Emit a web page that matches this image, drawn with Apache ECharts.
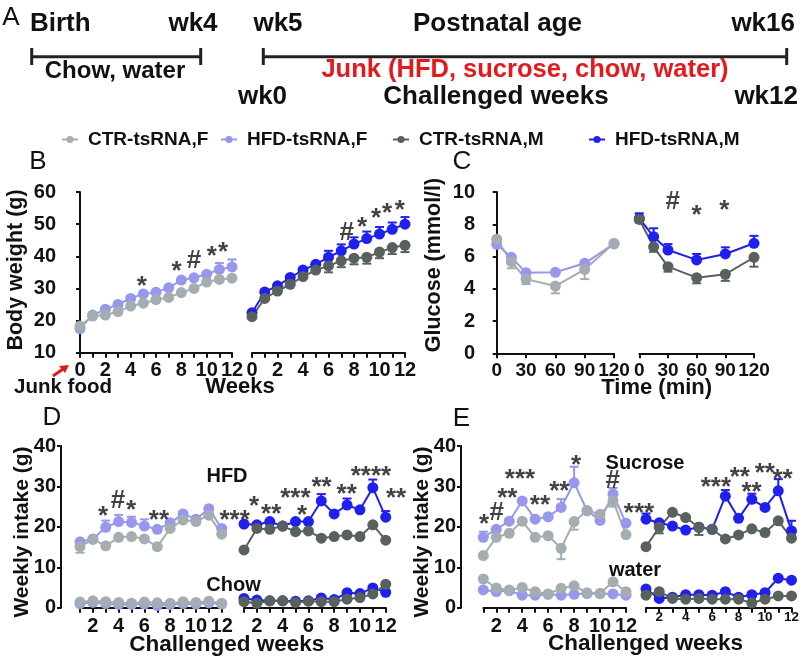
<!DOCTYPE html>
<html><head><meta charset="utf-8">
<script src="https://cdn.jsdelivr.net/npm/echarts@6/dist/echarts.min.js"></script>
<style>html,body{margin:0;padding:0;background:#fff}#c{width:802px;height:662px}</style>
</head><body><div id="c"></div>
<script>
// ---------- data ----------
const seriesNames = ['CTR-tsRNA,F', 'HFD-tsRNA,F', 'CTR-tsRNA,M', 'HFD-tsRNA,M'];
const weeksB = [0,1,2,3,4,5,6,7,8,9,10,11,12];
const bCtrF = [18.3, 21.4, 21.7, 22.8, 24.5, 25.4, 26.5, 27.2, 28.7, 30.0, 32.0, 32.8, 33.2];
const bHfdF = [17.5, 21.7, 23.5, 25.0, 26.9, 28.3, 28.8, 30.2, 32.6, 33.3, 34.4, 35.9, 36.7];
const bCtrM = [21.2, 26.9, 29.2, 31.3, 33.7, 35.7, 37.0, 38.6, 39.4, 39.7, 41.3, 42.7, 43.4];
const bHfdM = [22.4, 28.9, 30.8, 33.4, 35.7, 37.5, 39.7, 41.7, 43.8, 45.5, 46.9, 48.4, 50.0];
const bErrHfdF = [0,0,0,0,0,0,0,0,0,0,0,2.0,2.3];
const bErrHfdM = [0,0,0,0,0,0,2.0,2.0,2.1,2.2,2.2,2.1,2.2];
const bErrCtrM = [0,0,0,0,0,0,2.0,2.0,1.9,2.0,1.9,2.0,2.1];

const timeC = [0,15,30,60,90,120];
const cCtrF = [7.07, 5.68, 4.60, 4.17, 5.20, 6.82];
const cHfdF = [6.76, 5.95, 5.00, 5.02, 5.58, 6.78];
const cCtrM = [8.30, 6.60, 5.37, 4.69, 4.90, 5.95];
const cHfdM = [8.37, 7.23, 6.40, 5.79, 6.16, 6.82];
const cErrCtrF = [0, 0.41, 0.31, 0.45, 0.6, 0];
const cErrHfdM = [0.31, 0.52, 0.37, 0.37, 0.41, 0.46];
const cErrCtrM = [0.2, 0.31, 0.31, 0.35, 0.41, 0.58];

const weeksD = [1,2,3,4,5,6,7,8,9,10,11,12];
const dHfdCtrF = [15.1, 16.9, 15.3, 17.4, 17.6, 17.0, 15.1, 19.6, 21.7, 21.3, 22.9, 18.2];
const dHfdHfdF = [16.3, 17.0, 19.9, 21.3, 21.1, 20.2, 19.4, 21.0, 23.2, 21.9, 24.5, 19.6];
const dChowCtrF = [1.4, 1.7, 1.5, 1.3, 1.1, 1.4, 1.2, 1.1, 1.5, 1.3, 1.6, 1.1];
const dChowHfdF = [1.0, 1.3, 1.0, 0.8, 0.8, 0.9, 0.6, 0.8, 1.0, 0.9, 1.2, 0.9];
const dHfdCtrM = [14.3, 19.6, 19.4, 20.2, 18.8, 19.0, 17.2, 17.6, 18.0, 17.6, 20.5, 16.7];
const dHfdHfdM = [20.7, 20.5, 21.3, 20.2, 21.3, 21.3, 26.4, 23.2, 25.4, 24.2, 29.7, 22.4];
const dChowCtrM = [1.5, 1.1, 1.7, 1.7, 1.3, 1.6, 1.5, 1.5, 2.1, 2.5, 3.4, 5.8];
const dChowHfdM = [2.3, 1.9, 1.7, 1.7, 1.6, 1.7, 2.4, 2.0, 3.7, 3.5, 4.9, 3.8];
const dErrHfdF = [0,0,1.65,1.65,1.4,1.65,0,0,0,0,0,0];
const dErrCtrF = [1.5,0,0,0,0,0,0,0,0,0,0,0];
const dErrHfdM = [0,0,0,0,0,0,1.7,0,1.6,0,2.0,1.5];

const eSucCtrF = [12.9, 17.4, 18.4, 21.4, 17.4, 17.8, 14.7, 21.3, 24.0, 23.1, 26.5, 18.1];
const eSucHfdF = [17.4, 19.4, 21.4, 26.4, 21.9, 22.5, 24.8, 30.9, 24.0, 21.6, 28.1, 20.9];
const eWatCtrF = [7.1, 4.9, 4.4, 5.0, 3.95, 3.4, 4.8, 5.4, 3.7, 3.5, 6.4, 3.95];
const eWatHfdF = [4.4, 4.0, 4.2, 3.1, 3.1, 3.3, 3.1, 3.3, 3.5, 3.5, 3.4, 3.1];
const eSucCtrM = [15.1, 19.9, 23.6, 22.3, 19.9, 19.4, 17.0, 18.0, 19.5, 18.6, 21.5, 17.2];
const eSucHfdM = [21.9, 21.0, 20.2, 19.2, 19.9, 19.4, 27.6, 22.1, 26.8, 24.8, 28.9, 19.0];
const eWatCtrM = [3.1, 3.95, 2.3, 2.1, 2.3, 2.1, 2.1, 2.1, 1.2, 2.1, 2.9, 2.9];
const eWatHfdM = [4.6, 2.3, 2.6, 3.2, 3.2, 3.1, 3.95, 2.6, 3.2, 3.7, 7.3, 6.8];
const eErrSucHfdF = [1.4,0,0,0,0,0,2.06,3.96,0,0,1.5,0];
const eErrSucCtrF = [0,0,0,0,0,0,2.7,2.0,0,0,1.5,0];
const eErrSucHfdM = [1.4,0,0,0,0,0,1.5,0,1.4,0,2.9,2.5];
const eErrSucCtrM = [0,1.5,0,0,1.9,0,0,0,0,0,0,0];

// significance marks [x, y, text] in data units of their panel
const annB1 = [[4.87,32.5,'*'],[7.63,36.9,'*'],[9.0,38.75,'#'],[10.4,41.6,'*'],[11.3,42.9,'*']];
const annB2 = [[7.43,47.6,'#'],[8.63,50.7,'*'],[9.73,53.5,'*'],[10.6,55.0,'*'],[11.6,55.9,'*']];
const annC2 = [[34.9,9.46,'#'],[60,8.88,'*'],[88.9,9.19,'*']];
const annD1 = [[2.79,24.0,'*'],[3.95,26.6,'#'],[4.96,25.4,'*'],[7.13,22.9,'**'],[13.0,22.9,'***']];
const annD2 = [[1.78,26.4,'*'],[3.11,24.4,'**'],[4.99,28.4,'***'],[5.51,24.3,'*'],[7.02,31.1,'**'],[8.97,29.4,'**'],[10.85,33.8,'****'],[12.8,28.4,'**']];
const annE1 = [[1.05,21.9,'*'],[2.03,23.7,'#'],[2.85,28.3,'**'],[3.83,33.2,'***'],[5.37,26.6,'**'],[6.86,30.1,'**'],[8.15,36.7,'*'],[10.98,31.6,'#'],[13.0,24.6,'***']];
const annE2 = [[6.28,31.2,'***'],[8.09,33.6,'**'],[8.98,29.9,'**'],[9.98,34.5,'**'],[11.32,33.2,'**']];

// ---------- style ----------
const F = '"Liberation Sans", Arial, Helvetica, sans-serif';
const INK = '#111';
const COL = {'CTR-tsRNA,F':'#a4adb1','HFD-tsRNA,F':'#9797ee','CTR-tsRNA,M':'#59615f','HFD-tsRNA,M':'#2020ee'};

const grids = [
  {left:80, top:192, width:152, height:160.7},     // B1
  {left:252, top:192, width:153, height:160.7},    // B2
  {left:496.7, top:192, width:117.3, height:161.3},// C1
  {left:639.3, top:192, width:114.7, height:161.3},// C2
  {left:80, top:446, width:141.7, height:161.7},   // D1
  {left:244, top:446, width:141.7, height:161.7},  // D2
  {left:483.3, top:446, width:142.7, height:161.7},// E1
  {left:646, top:446, width:145.7, height:161.7}   // E2
];

function xAx(g, min, max, interval, fs, margin, evenOnly) {
  return {gridIndex:g, type:'value', min, max, interval,
    axisLine:{show:true, onZero:false, lineStyle:{color:INK, width:2}},
    axisTick:{show:true, length:5, lineStyle:{color:INK, width:2}},
    splitLine:{show:false},
    axisLabel:{fontSize:fs, fontWeight:'bold', color:INK, fontFamily:F, margin,
      formatter: evenOnly ? (v => (v % 2 === 0 ? String(v) : '')) : (v => String(v))}};
}
function yAx(g, min, max, interval, show, offset) {
  return {gridIndex:g, type:'value', min, max, interval, show, offset,
    axisLine:{show:true, lineStyle:{color:INK, width:2}},
    axisTick:{show:true, length:4, lineStyle:{color:INK, width:2}},
    splitLine:{show:false},
    axisLabel:{fontSize:20, fontWeight:'bold', color:INK, fontFamily:F, margin:5}};
}

const xAxis = [
  xAx(0,0,12,1,20,8,true), xAx(1,0,12,1,20,8,true),
  xAx(2,0,120,30,19,8,false), xAx(3,0,120,30,19,8,false),
  xAx(4,1,12,1,20,9,true), xAx(5,1,12,1,20,9,true),
  xAx(6,1,12,1,20,9,true), xAx(7,1,12,1,13.5,3,true)
];
const yAxis = [
  yAx(0,10,60,10,true,19), yAx(1,10,60,10,false,0),
  yAx(2,0,10,2,true,16.7), yAx(3,0,10,2,false,0),
  yAx(4,0,40,10,true,19), yAx(5,0,40,10,false,0),
  yAx(6,0,40,10,true,22.3), yAx(7,0,40,10,false,0)
];

const series = [];
function line(name, xs, ys, g) {
  const c = COL[name];
  series.push({type:'line', name, xAxisIndex:g, yAxisIndex:g,
    data: xs.map((x,i)=>[x, ys[i]]), symbol:'circle', symbolSize:11, z:3,
    lineStyle:{color:c, width:2}, itemStyle:{color:c}, emphasis:{disabled:true}});
}
function err(name, xs, ys, es, dir, g) {
  const c = COL[name];
  const data = [];
  xs.forEach((x,i)=>{ if (es[i] > 0) data.push([x, ys[i], ys[i] + dir*es[i]]); });
  series.push({type:'custom', name:name + ' SEM', xAxisIndex:g, yAxisIndex:g, z:2, silent:true,
    data, renderItem:(p, api)=>{
      const p0 = api.coord([api.value(0), api.value(1)]);
      const p1 = api.coord([api.value(0), api.value(2)]);
      return {type:'group', children:[
        {type:'line', shape:{x1:p0[0], y1:p0[1], x2:p1[0], y2:p1[1]}, style:{stroke:c, lineWidth:2}},
        {type:'line', shape:{x1:p1[0]-4.5, y1:p1[1], x2:p1[0]+4.5, y2:p1[1]}, style:{stroke:c, lineWidth:2}}
      ]};
    }});
}
function marks(arr, g) {
  series.push({type:'scatter', name:'sig', xAxisIndex:g, yAxisIndex:g, silent:true, clip:false, z:5,
    symbolSize:1, itemStyle:{color:'rgba(0,0,0,0)'},
    data: arr.map(a=>({value:[a[0], a[1]], label:{formatter:a[2], offset: a[2].indexOf('*') >= 0 ? [0,6] : [0,1]}})),
    label:{show:true, position:'inside', fontSize:26, fontWeight:'bold', color:INK, fontFamily:F}});
}

// B
line('HFD-tsRNA,F', weeksB, bHfdF, 0); line('CTR-tsRNA,F', weeksB, bCtrF, 0);
err('HFD-tsRNA,F', weeksB, bHfdF, bErrHfdF, 1, 0);
line('HFD-tsRNA,M', weeksB, bHfdM, 1); line('CTR-tsRNA,M', weeksB, bCtrM, 1);
err('HFD-tsRNA,M', weeksB, bHfdM, bErrHfdM, 1, 1); err('CTR-tsRNA,M', weeksB, bCtrM, bErrCtrM, -1, 1);
// C
line('HFD-tsRNA,F', timeC, cHfdF, 2); line('CTR-tsRNA,F', timeC, cCtrF, 2);
err('CTR-tsRNA,F', timeC, cCtrF, cErrCtrF, -1, 2);
line('HFD-tsRNA,M', timeC, cHfdM, 3); line('CTR-tsRNA,M', timeC, cCtrM, 3);
err('HFD-tsRNA,M', timeC, cHfdM, cErrHfdM, 1, 3); err('CTR-tsRNA,M', timeC, cCtrM, cErrCtrM, -1, 3);
// D
line('HFD-tsRNA,F', weeksD, dHfdHfdF, 4); line('CTR-tsRNA,F', weeksD, dHfdCtrF, 4);
line('HFD-tsRNA,F', weeksD, dChowHfdF, 4); line('CTR-tsRNA,F', weeksD, dChowCtrF, 4);
err('HFD-tsRNA,F', weeksD, dHfdHfdF, dErrHfdF, 1, 4); err('CTR-tsRNA,F', weeksD, dHfdCtrF, dErrCtrF, -1, 4);
line('HFD-tsRNA,M', weeksD, dHfdHfdM, 5); line('CTR-tsRNA,M', weeksD, dHfdCtrM, 5);
line('HFD-tsRNA,M', weeksD, dChowHfdM, 5); line('CTR-tsRNA,M', weeksD, dChowCtrM, 5);
err('HFD-tsRNA,M', weeksD, dHfdHfdM, dErrHfdM, 1, 5);
// E
line('HFD-tsRNA,F', weeksD, eSucHfdF, 6); line('CTR-tsRNA,F', weeksD, eSucCtrF, 6);
line('HFD-tsRNA,F', weeksD, eWatHfdF, 6); line('CTR-tsRNA,F', weeksD, eWatCtrF, 6);
err('HFD-tsRNA,F', weeksD, eSucHfdF, eErrSucHfdF, 1, 6); err('CTR-tsRNA,F', weeksD, eSucCtrF, eErrSucCtrF, -1, 6);
line('HFD-tsRNA,M', weeksD, eSucHfdM, 7); line('CTR-tsRNA,M', weeksD, eSucCtrM, 7);
line('HFD-tsRNA,M', weeksD, eWatHfdM, 7); line('CTR-tsRNA,M', weeksD, eWatCtrM, 7);
err('HFD-tsRNA,M', weeksD, eSucHfdM, eErrSucHfdM, 1, 7); err('CTR-tsRNA,M', weeksD, eSucCtrM, eErrSucCtrM, -1, 7);
// significance
marks(annB1,0); marks(annB2,1); marks(annC2,3); marks(annD1,4); marks(annD2,5); marks(annE1,6); marks(annE2,7);

// legends (one item each, placed like the original row)
const legendLeft = [56, 215, 387, 583];
const legend = seriesNames.map((n,i)=>({data:[n], left:legendLeft[i], top:125, itemWidth:16, itemHeight:9, itemGap:0,
  textStyle:{fontSize:19, fontWeight:'bold', color:INK, fontFamily:F, padding:[0,0,0,5]}}));

// ---------- text / decorations ----------
function T(text, x, y, size, o) {
  o = o || {};
  return {type:'text', x, y, rotation:o.rot || 0, silent:true, z:10,
    style:{text, fontSize:size, fontWeight:o.w || 'bold', fontFamily:F, fill:o.fill || INK,
      align:o.align || 'center', verticalAlign:'middle'}};
}
function L(x1,y1,x2,y2,w) {
  return {type:'line', silent:true, shape:{x1,y1,x2,y2}, style:{stroke:'#222', lineWidth:w||3}};
}
const R = Math.PI/2;
const graphic = [
  T('A', 11, 18, 26, {w:'normal'}),
  T('Birth', 30, 24, 26, {align:'left'}),
  T('wk4', 193, 24, 26),
  T('wk5', 278, 24, 26),
  T('Postnatal age', 497.5, 24, 26),
  T('wk16', 795, 24, 26, {align:'right'}),
  L(31.7,56.7,200.7,56.7), L(31.7,48,31.7,65), L(200.7,48,200.7,65),
  L(263.3,56.7,786.7,56.7), L(263.3,48,263.3,65), L(786.7,48,786.7,65),
  T('Chow, water', 115, 71, 24),
  T('Junk (HFD, sucrose, chow, water)', 525, 70, 25.5, {fill:'#e31a1c'}),
  T('wk0', 262.5, 97, 26),
  T('Challenged weeks', 496, 97, 26),
  T('wk12', 798, 97, 26, {align:'right'}),
  T('B', 38, 162, 26, {w:'normal'}),
  T('C', 462, 162, 26, {w:'normal'}),
  T('D', 52, 418, 26, {w:'normal'}),
  T('E', 461.5, 419, 26, {w:'normal'}),
  T('Body weight (g)', 16, 270, 21.5, {rot:R}),
  T('Glucose (mmol/l)', 434, 265, 21.5, {rot:R}),
  T('Weekly intake (g)', 22, 532, 21, {rot:R}),
  T('Weekly intake (g)', 422, 532, 21, {rot:R}),
  T('Weeks', 240, 387, 22),
  T('Junk food', 63, 387, 20.5),
  T('Time (min)', 656.7, 388, 22),
  T('Challenged weeks', 226.7, 645, 22.5),
  T('Challenged weeks', 645.5, 644, 22.5),
  T('HFD', 227, 476, 20),
  T('Chow', 233.5, 585, 20),
  T('Sucrose', 645, 463, 20),
  T('water', 635, 570, 20),
  {type:'polyline', silent:true, shape:{points:[[53,376],[63,369]]}, style:{stroke:'#e31a1c', lineWidth:3}},
  {type:'polygon', silent:true, shape:{points:[[69,365],[59,366],[65,373]]}, style:{fill:'#e31a1c'}}
];

const chart = echarts.init(document.getElementById('c'), null, {renderer:'canvas'});
chart.setOption({animation:false, backgroundColor:'#fff', grid:grids, xAxis, yAxis, series, legend, graphic});
</script></body></html>
